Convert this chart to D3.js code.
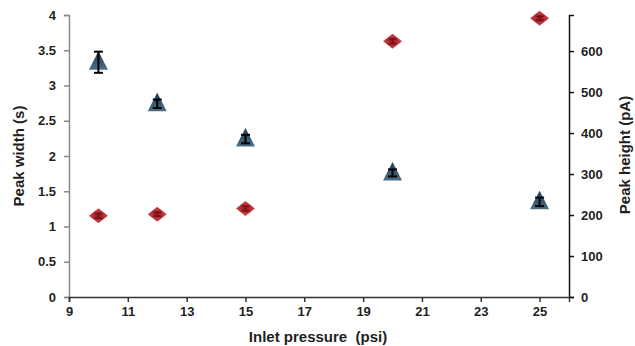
<!DOCTYPE html>
<html>
<head>
<meta charset="utf-8">
<script src="https://cdn.jsdelivr.net/npm/d3@7"></script>
<style>
  body { margin: 0; background: #fff; }
  text { font-family: "Liberation Sans", Arial, sans-serif; font-weight: bold; fill: #1f1f1f; }
</style>
</head>
<body>
<svg id="chart" width="635" height="346"></svg>
<script>
// data
const pressure = [10, 12, 15, 20, 25];
const peakWidth = [3.33, 2.74, 2.24, 1.76, 1.35];
const peakWidthErr = [0.15, 0.06, 0.06, 0.05, 0.06];
const peakHeight = [198, 202, 216, 624, 680];
const peakHeightErr = [6, 5, 6, 6, 5];
const xTicks = [9, 11, 13, 15, 17, 19, 21, 23, 25];
const leftTicks = [0, 0.5, 1, 1.5, 2, 2.5, 3, 3.5, 4];
const rightTicks = [0, 100, 200, 300, 400, 500, 600];

const svg = d3.select("#chart");

const plot = { left: 69, right: 569, top: 15, bottom: 297 };

const x = d3.scaleLinear().domain([9, 26]).range([plot.left, plot.right]);
const yL = d3.scaleLinear().domain([0, 4]).range([plot.bottom, plot.top]);
const yR = d3.scaleLinear().domain([0, 688]).range([plot.bottom, plot.top]);

// 그라디언트 정의
const defs = svg.append("defs");
const tg = defs.append("linearGradient").attr("id", "triGrad")
    .attr("x1", 0).attr("y1", 0).attr("x2", 0).attr("y2", 1);
tg.append("stop").attr("offset", "0%").attr("stop-color", "#1d3a52");
tg.append("stop").attr("offset", "100%").attr("stop-color", "#4d6f88");
const dg = defs.append("radialGradient").attr("id", "diaGrad");
dg.append("stop").attr("offset", "0%").attr("stop-color", "#8e141a");
dg.append("stop").attr("offset", "100%").attr("stop-color", "#d24a50");

// 왼쪽 축
const axL = svg.append("g")
    .attr("transform", `translate(${plot.left},0)`)
    .call(d3.axisLeft(yL).tickValues(leftTicks).tickSize(5).tickPadding(8)
        .tickFormat(d => d));
axL.select(".domain").attr("stroke", "#8a8a8a").attr("stroke-width", 1.5);
axL.selectAll(".tick line").attr("stroke", "#8a8a8a").attr("stroke-width", 1.5);
axL.selectAll(".tick text").style("font-size", "13px").attr("fill", "#1f1f1f");

// 오른쪽 축
const axR = svg.append("g")
    .attr("transform", `translate(${plot.right},0)`)
    .call(d3.axisRight(yR).tickValues(rightTicks).tickSize(5).tickPadding(7));
axR.select(".domain").attr("stroke", "#111").attr("stroke-width", 1.5);
axR.selectAll(".tick line").attr("stroke", "#111").attr("stroke-width", 1.5);
axR.selectAll(".tick text").style("font-size", "13px").attr("fill", "#1f1f1f");

// 아래 축
const axB = svg.append("g")
    .attr("transform", `translate(0,${plot.bottom})`)
    .call(d3.axisBottom(x).tickValues(xTicks).tickSize(5).tickPadding(5));
axB.select(".domain").attr("stroke", "#333").attr("stroke-width", 1.5);
axB.selectAll(".tick line").attr("stroke", "#333").attr("stroke-width", 1.5);
axB.selectAll(".tick text").style("font-size", "13px").attr("fill", "#1f1f1f");

// 축 제목
svg.append("text")
    .attr("transform", "translate(24,156) rotate(-90)")
    .attr("text-anchor", "middle")
    .style("font-size", "15px")
    .text("Peak width (s)");

svg.append("text")
    .attr("transform", "translate(630,155) rotate(-90)")
    .attr("text-anchor", "middle")
    .style("font-size", "15px")
    .text("Peak height (pA)");

svg.append("text")
    .attr("x", 318)
    .attr("y", 342)
    .attr("text-anchor", "middle")
    .style("font-size", "15px")
    .style("white-space", "pre")
    .attr("xml:space", "preserve")
    .text("Inlet pressure  (psi)");

// 피크 높이 (빨간 다이아몬드)
const hData = pressure.map((p, i) => ({ x: p, y: peakHeight[i], e: peakHeightErr[i] }));
svg.selectAll(".dia")
    .data(hData)
    .enter()
    .append("path")
    .attr("class", "dia")
    .attr("d", "M0,-7.5 L9.5,0 L0,7.5 L-9.5,0 Z")
    .attr("transform", d => `translate(${x(d.x)},${yR(d.y)})`)
    .attr("fill", "url(#diaGrad)");

const hErr = svg.selectAll(".herr").data(hData).enter().append("g")
    .attr("stroke", "#7a1015").attr("stroke-width", 1.5);
hErr.append("line")
    .attr("x1", d => x(d.x)).attr("x2", d => x(d.x))
    .attr("y1", d => yR(d.y - d.e)).attr("y2", d => yR(d.y + d.e));
hErr.append("line")
    .attr("x1", d => x(d.x) - 4).attr("x2", d => x(d.x) + 4)
    .attr("y1", d => yR(d.y + d.e)).attr("y2", d => yR(d.y + d.e));
hErr.append("line")
    .attr("x1", d => x(d.x) - 4).attr("x2", d => x(d.x) + 4)
    .attr("y1", d => yR(d.y - d.e)).attr("y2", d => yR(d.y - d.e));

// 피크 폭 (삼각형)
const wData = pressure.map((p, i) => ({ x: p, y: peakWidth[i], e: peakWidthErr[i] }));
svg.selectAll(".tri")
    .data(wData)
    .enter()
    .append("path")
    .attr("class", "tri")
    .attr("d", "M0,-11 L9.5,7.5 L-9.5,7.5 Z")
    .attr("transform", d => `translate(${x(d.x)},${yL(d.y)})`)
    .attr("fill", "url(#triGrad)");

const wErr = svg.selectAll(".werr").data(wData).enter().append("g")
    .attr("stroke", "#000").attr("stroke-width", 2);
wErr.append("line")
    .attr("x1", d => x(d.x)).attr("x2", d => x(d.x))
    .attr("y1", d => yL(d.y - d.e)).attr("y2", d => yL(d.y + d.e));
wErr.append("line")
    .attr("x1", d => x(d.x) - 4.5).attr("x2", d => x(d.x) + 4.5)
    .attr("y1", d => yL(d.y + d.e)).attr("y2", d => yL(d.y + d.e));
wErr.append("line")
    .attr("x1", d => x(d.x) - 4.5).attr("x2", d => x(d.x) + 4.5)
    .attr("y1", d => yL(d.y - d.e)).attr("y2", d => yL(d.y - d.e));
</script>
</body>
</html>
